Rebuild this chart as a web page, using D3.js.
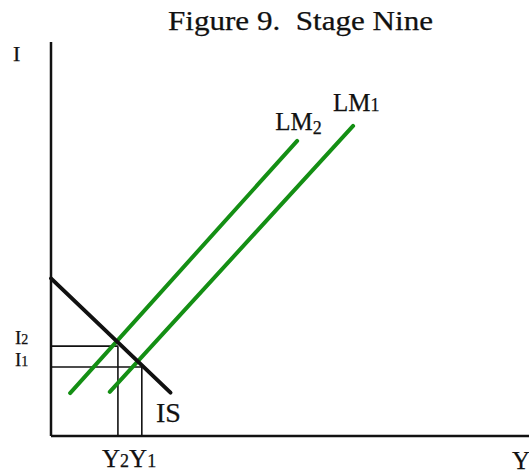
<!DOCTYPE html>
<html>
<meta charset="utf-8">
<style>
  body { margin: 0; background: #fff; }
  text { font-family: "Liberation Serif", serif; fill: #111; stroke: #111; stroke-width: 0.25; white-space: pre; }
</style>
<body>
<svg width="529" height="475"></svg>
<script src="https://d3js.org/d3.v7.min.js"></script>
<script>
  // curves in abstract units (Y, I)
  let isCurve = [[0, 40], [25, 11]]
  let lm1 = [[12.3, 11.2], [63.2, 78.7]]
  let lm2 = [[4.0, 10.9], [51.5, 74.9]]
  // equilibria
  let eqY = [19.0, 14.0]
  let eqI = [17.5, 22.8]
  let eqNames = ['1', '2']

  let svg = d3.select('svg')
  let x = d3.scaleLinear().domain([0, 100]).range([51, 529])
  let y = d3.scaleLinear().domain([0, 100]).range([436, 42])
  let line = d3.line().x(d => x(d[0])).y(d => y(d[1]))

  svg.append('text').attr('x', 168).attr('y', 30)
    .attr('font-size', 27).attr('textLength', 265).attr('lengthAdjust', 'spacingAndGlyphs')
    .text('Figure 9.  Stage Nine')

  // axes
  svg.append('line').attr('x1', x(0)).attr('x2', x(0)).attr('y1', y(100)).attr('y2', y(0))
    .attr('stroke', '#111').attr('stroke-width', 2.5)
  svg.append('line').attr('x1', x(0)).attr('x2', x(100)).attr('y1', y(0)).attr('y2', y(0))
    .attr('stroke', '#111').attr('stroke-width', 2.5)
  svg.append('text').attr('x', 13).attr('y', 61).attr('font-size', 22).text('I')
  svg.append('text').attr('x', 512).attr('y', 469).attr('font-size', 25).text('Y')

  // guide lines
  let g = svg.append('g').attr('stroke', '#111').attr('stroke-width', 1.6)
  eqY.forEach((v, i) => {
    g.append('line').attr('x1', x(0)).attr('x2', x(v)).attr('y1', y(eqI[i])).attr('y2', y(eqI[i]))
    g.append('line').attr('x1', x(v)).attr('x2', x(v)).attr('y1', y(eqI[i])).attr('y2', y(0))
  })

  // curves
  ;[lm2, lm1].forEach(c => {
    svg.append('path').attr('d', line(c)).attr('fill', 'none')
      .attr('stroke', '#148f14').attr('stroke-width', 4).attr('stroke-linecap', 'round')
  })
  svg.append('path').attr('d', line(isCurve)).attr('fill', 'none')
    .attr('stroke', '#111').attr('stroke-width', 4).attr('stroke-linecap', 'round')

  // labels
  svg.append('text').attr('x', 156).attr('y', 422).attr('font-size', 28).text('IS')
  eqNames.forEach((n, i) => {
    let t = svg.append('text').attr('x', 15).attr('y', i ? 344 : 366).attr('font-size', 19)
    t.append('tspan').text('I')
    t.append('tspan').attr('font-size', 14).text(n)
  })
  let yl = svg.append('text').attr('x', 102).attr('y', 467).attr('font-size', 25)
  eqNames.slice().reverse().forEach(n => {
    yl.append('tspan').text('Y')
    yl.append('tspan').attr('font-size', 18).text(n)
  })
  let lmLab = [[lm2, '2', -22, -11], [lm1, '1', -20, -15]]
  lmLab.forEach(([c, n, dx, dy]) => {
    let t = svg.append('text').attr('x', x(c[1][0]) + dx).attr('y', y(c[1][1]) + dy).attr('font-size', 25)
    t.append('tspan').text('LM')
    t.append('tspan').attr('font-size', 18).attr('dy', n === '2' ? 4 : 0).text(n)
  })
</script>
</body>
</html>
